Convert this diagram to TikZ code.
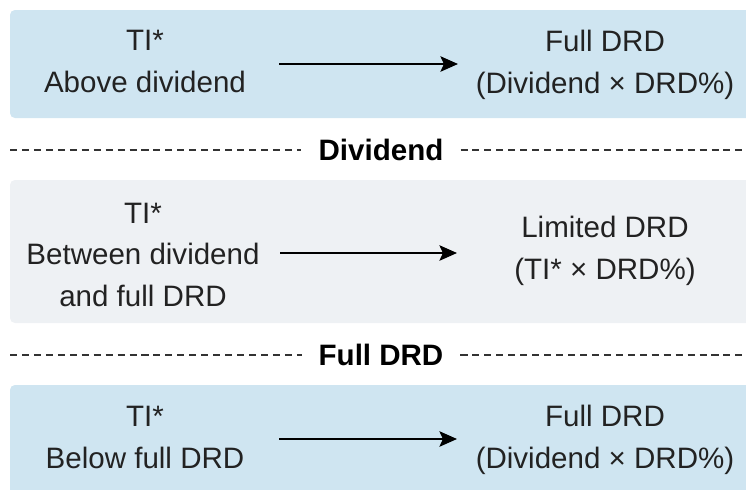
\documentclass[tikz,border=0pt]{standalone}
\usepackage{fontspec}
\setmainfont{Liberation Sans}
\usepackage{xcolor}
\usetikzlibrary{arrows.meta}
\definecolor{boxblu}{RGB}{207,229,241}
\definecolor{boxgrigio}{RGB}{238,241,244}
\definecolor{testo}{RGB}{34,34,34}
\tikzset{
    scatola/.style={rounded corners=3.5pt},
    etichetta/.style={align=center, anchor=base, inner sep=0pt, text=testo, font={\fontsize{21}{29.2}\selectfont}},
    soglia/.style={inner xsep=12pt, inner ysep=0pt, text height=15pt, text depth=0pt, font={\fontsize{21}{29.2}\selectfont\bfseries}},
    freccia/.style={-{Stealth[length=12.5pt, width=11pt, inset=2.5pt]}, line width=1.4pt, black},
    tratteggio/.style={dash pattern=on 5pt off 3.5pt, line width=1pt, black!80}
}

\begin{document}
\begin{tikzpicture}[x=0.025cm, y=-0.025cm]
    % Cornice
    \useasboundingbox (0,0) rectangle (746,489);
    \clip (0,0) rectangle (746,489);

    % Riquadri (escono dal bordo destro e da quello inferiore)
    \fill[boxblu, scatola] (10,10) rectangle (760,118);
    \fill[boxgrigio, scatola] (10,180) rectangle (760,323);
    \fill[boxblu, scatola] (10,385) rectangle (760,500);

    % Caso 1: sopra il dividendo
    % (le etichette sono ancorate alla base dell'ultima riga)
    \node[etichetta] (sopra) at (145,92) {TI*\\Above dividend};
    \node[etichetta] (pieno1) at (605,93) {Full DRD\\(Dividend × DRD\%)};
    \coordinate (f1a) at (279,64);
    \coordinate (f1b) at (458,64);
    \draw[freccia] (f1a) -- (f1b);

    % Soglia del dividendo
    \node[soglia] (div) at (381,150) {Dividend};
    \coordinate (d1) at (10,150);
    \coordinate (d2) at (746,150);
    \draw[tratteggio] (d1) -- (div.west);
    \draw[tratteggio] (div.east) -- (d2);

    % Caso 2: in mezzo
    \node[etichetta] (mezzo) at (143,306) {TI*\\Between dividend\\and full DRD};
    \node[etichetta] (limitato) at (605,279) {Limited DRD\\(TI* × DRD\%)};
    \coordinate (f2a) at (280,253);
    \coordinate (f2b) at (457,253);
    \draw[freccia] (f2a) -- (f2b);

    % Soglia del DRD pieno
    \node[soglia] (drd) at (381,355) {Full DRD};
    \coordinate (s1) at (10,355);
    \coordinate (s2) at (746,355);
    \draw[tratteggio] (s1) -- (drd.west);
    \draw[tratteggio] (drd.east) -- (s2);

    % Caso 3: sotto il DRD pieno
    \node[etichetta] (sotto) at (145,468) {TI*\\Below full DRD};
    \node[etichetta] (pieno3) at (605,468) {Full DRD\\(Dividend × DRD\%)};
    \coordinate (f3a) at (279,439);
    \coordinate (f3b) at (457,439);
    \draw[freccia] (f3a) -- (f3b);
\end{tikzpicture}
\end{document}
